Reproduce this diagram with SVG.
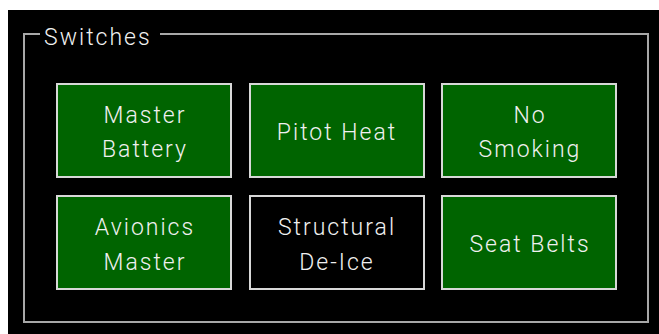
<svg xmlns="http://www.w3.org/2000/svg" width="659" height="334" viewBox="0 0 659 334">
<style>
.btn{stroke:#d8d8d8;stroke-width:2}
.on{fill:#006400}
.off{fill:#000000}
.t{font-family:Roboto,"Liberation Sans",Arial,sans-serif;font-weight:300;font-size:23px;letter-spacing:2px;fill:#f0f0f0;text-anchor:middle}
</style>
<rect x="0" y="0" width="659" height="334" fill="#ffffff"/>
<rect x="8" y="10" width="651" height="324" fill="#000000"/>
<g id="group-frame">
<path d="M160,34 H648 V322 H24 V34 H40" fill="none" stroke="#a8a8a8" stroke-width="2"/>
<text x="44" y="45" font-family="Roboto,Liberation Sans,Arial,sans-serif" font-weight="300" font-size="23" letter-spacing="2" fill="#f0f0f0">Switches</text>
</g>
<g id="connectors"></g>
<g id="master-battery">
<rect class="btn on" x="57" y="84" width="174" height="93"/>
<text class="t" x="145" y="123">Master</text>
<text class="t" x="145" y="157">Battery</text>
</g>
<g id="pitot-heat">
<rect class="btn on" x="250" y="84" width="174" height="93"/>
<text class="t" x="337" y="140">Pitot Heat</text>
</g>
<g id="no-smoking">
<rect class="btn on" x="442" y="84" width="174" height="93"/>
<text class="t" x="530" y="123">No</text>
<text class="t" x="530" y="157">Smoking</text>
</g>
<g id="avionics-master">
<rect class="btn on" x="57" y="196" width="174" height="93"/>
<text class="t" x="145" y="235">Avionics</text>
<text class="t" x="145" y="270">Master</text>
</g>
<g id="structural-de-ice">
<rect class="btn off" x="250" y="196" width="174" height="93"/>
<text class="t" x="337" y="235">Structural</text>
<text class="t" x="337" y="270">De-Ice</text>
</g>
<g id="seat-belts">
<rect class="btn on" x="442" y="196" width="174" height="93"/>
<text class="t" x="530" y="252">Seat Belts</text>
</g>
</svg>
